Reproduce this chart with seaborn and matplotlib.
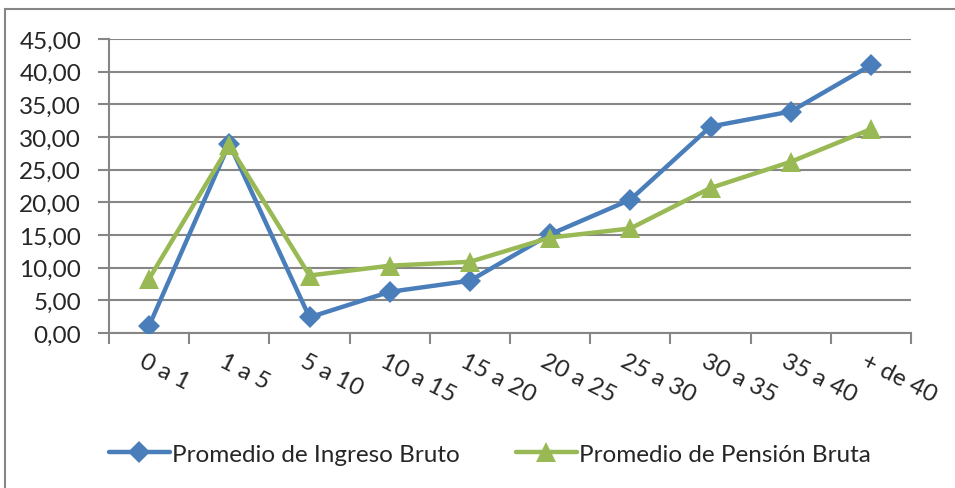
import matplotlib
matplotlib.use("Agg")
import matplotlib.pyplot as plt
import matplotlib.patches as mpatches
from matplotlib.lines import Line2D
import seaborn as sns
import pandas as pd
import numpy as np

categories = ["0 a 1", "1 a 5", "5 a 10", "10 a 15", "15 a 20", "20 a 25",
              "25 a 30", "30 a 35", "35 a 40", "+ de 40"]
ingreso = [1.1, 29.0, 2.4, 6.3, 8.0, 15.1, 20.4, 31.6, 33.9, 41.0]
pension = [8.3, 28.7, 8.8, 10.3, 10.9, 14.6, 16.0, 22.2, 26.2, 31.2]
name_ing = "Promedio de Ingreso Bruto"
name_pen = "Promedio de Pensión Bruta"
yticks = [0, 5, 10, 15, 20, 25, 30, 35, 40, 45]

sns.set_theme(style="white")
plt.rcParams['font.family'] = ['Lato', 'DejaVu Sans']

blue = "#4A7EBB"
green = "#98B954"
grid = "#868686"
fs = 17.5

fig = plt.figure(figsize=(9.55, 4.89), dpi=100)
ax = fig.add_axes([109/955, 1-334/489, (911-109)/955, (334-40)/489])

x = np.arange(len(categories))
df = pd.DataFrame({"x": x, "ing": ingreso, "pen": pension})
sns.lineplot(data=df, x="x", y="ing", ax=ax, color=blue, lw=3.2, marker="D",
             markersize=11, markeredgewidth=0, zorder=3)
sns.lineplot(data=df, x="x", y="pen", ax=ax, color=green, lw=3.2, marker="^",
             markersize=14, markeredgewidth=0, zorder=4)

ax.set_xlim(-0.5, len(categories) - 0.5)
ax.set_ylim(0, 45)
ax.set_yticks(yticks)
ax.set_yticklabels([f"{v:.2f}".replace(".", ",") for v in yticks], fontsize=fs)
ax.yaxis.grid(True, color=grid, lw=1.5)
ax.set_axisbelow(True)
ax.set_xticks(np.arange(-0.5, len(categories), 1.0))
ax.set_xticklabels([])
ax.set_xticks(x - 0.04, minor=True)
ax.set_xticklabels(categories, minor=True, fontsize=fs, rotation=-27,
                   ha="left", va="top", rotation_mode="anchor")
ax.tick_params(axis="x", which="major", direction="out", length=8, width=1.5, color=grid, bottom=True)
ax.tick_params(axis="x", which="minor", length=0, bottom=True, pad=12)
ax.tick_params(axis="y", direction="out", length=8, width=1.5, color=grid, left=True, pad=12)
for s in ["top", "right"]:
    ax.spines[s].set_visible(False)
for s in ["left", "bottom"]:
    ax.spines[s].set_color(grid)
    ax.spines[s].set_linewidth(1.5)
ax.set_xlabel("")
ax.set_ylabel("")

handles = [Line2D([], [], color=blue, lw=3.2, marker="D", markersize=11, markeredgewidth=0),
           Line2D([], [], color=green, lw=3.2, marker="^", markersize=14, markeredgewidth=0)]
fig.legend(handles, [name_ing, name_pen], loc="center", bbox_to_anchor=(0.513, 1-455/489),
           ncol=2, frameon=False, fontsize=fs, handlelength=2.5, handletextpad=0.1,
           columnspacing=2.3)

fig.patches.append(mpatches.Rectangle((5/955, -0.1), 1.2, 1.1 - 10/489 + 0.0,
                                      transform=fig.transFigure, fill=False,
                                      edgecolor=grid, lw=1.5))
fig.savefig("out.png", dpi=100)
